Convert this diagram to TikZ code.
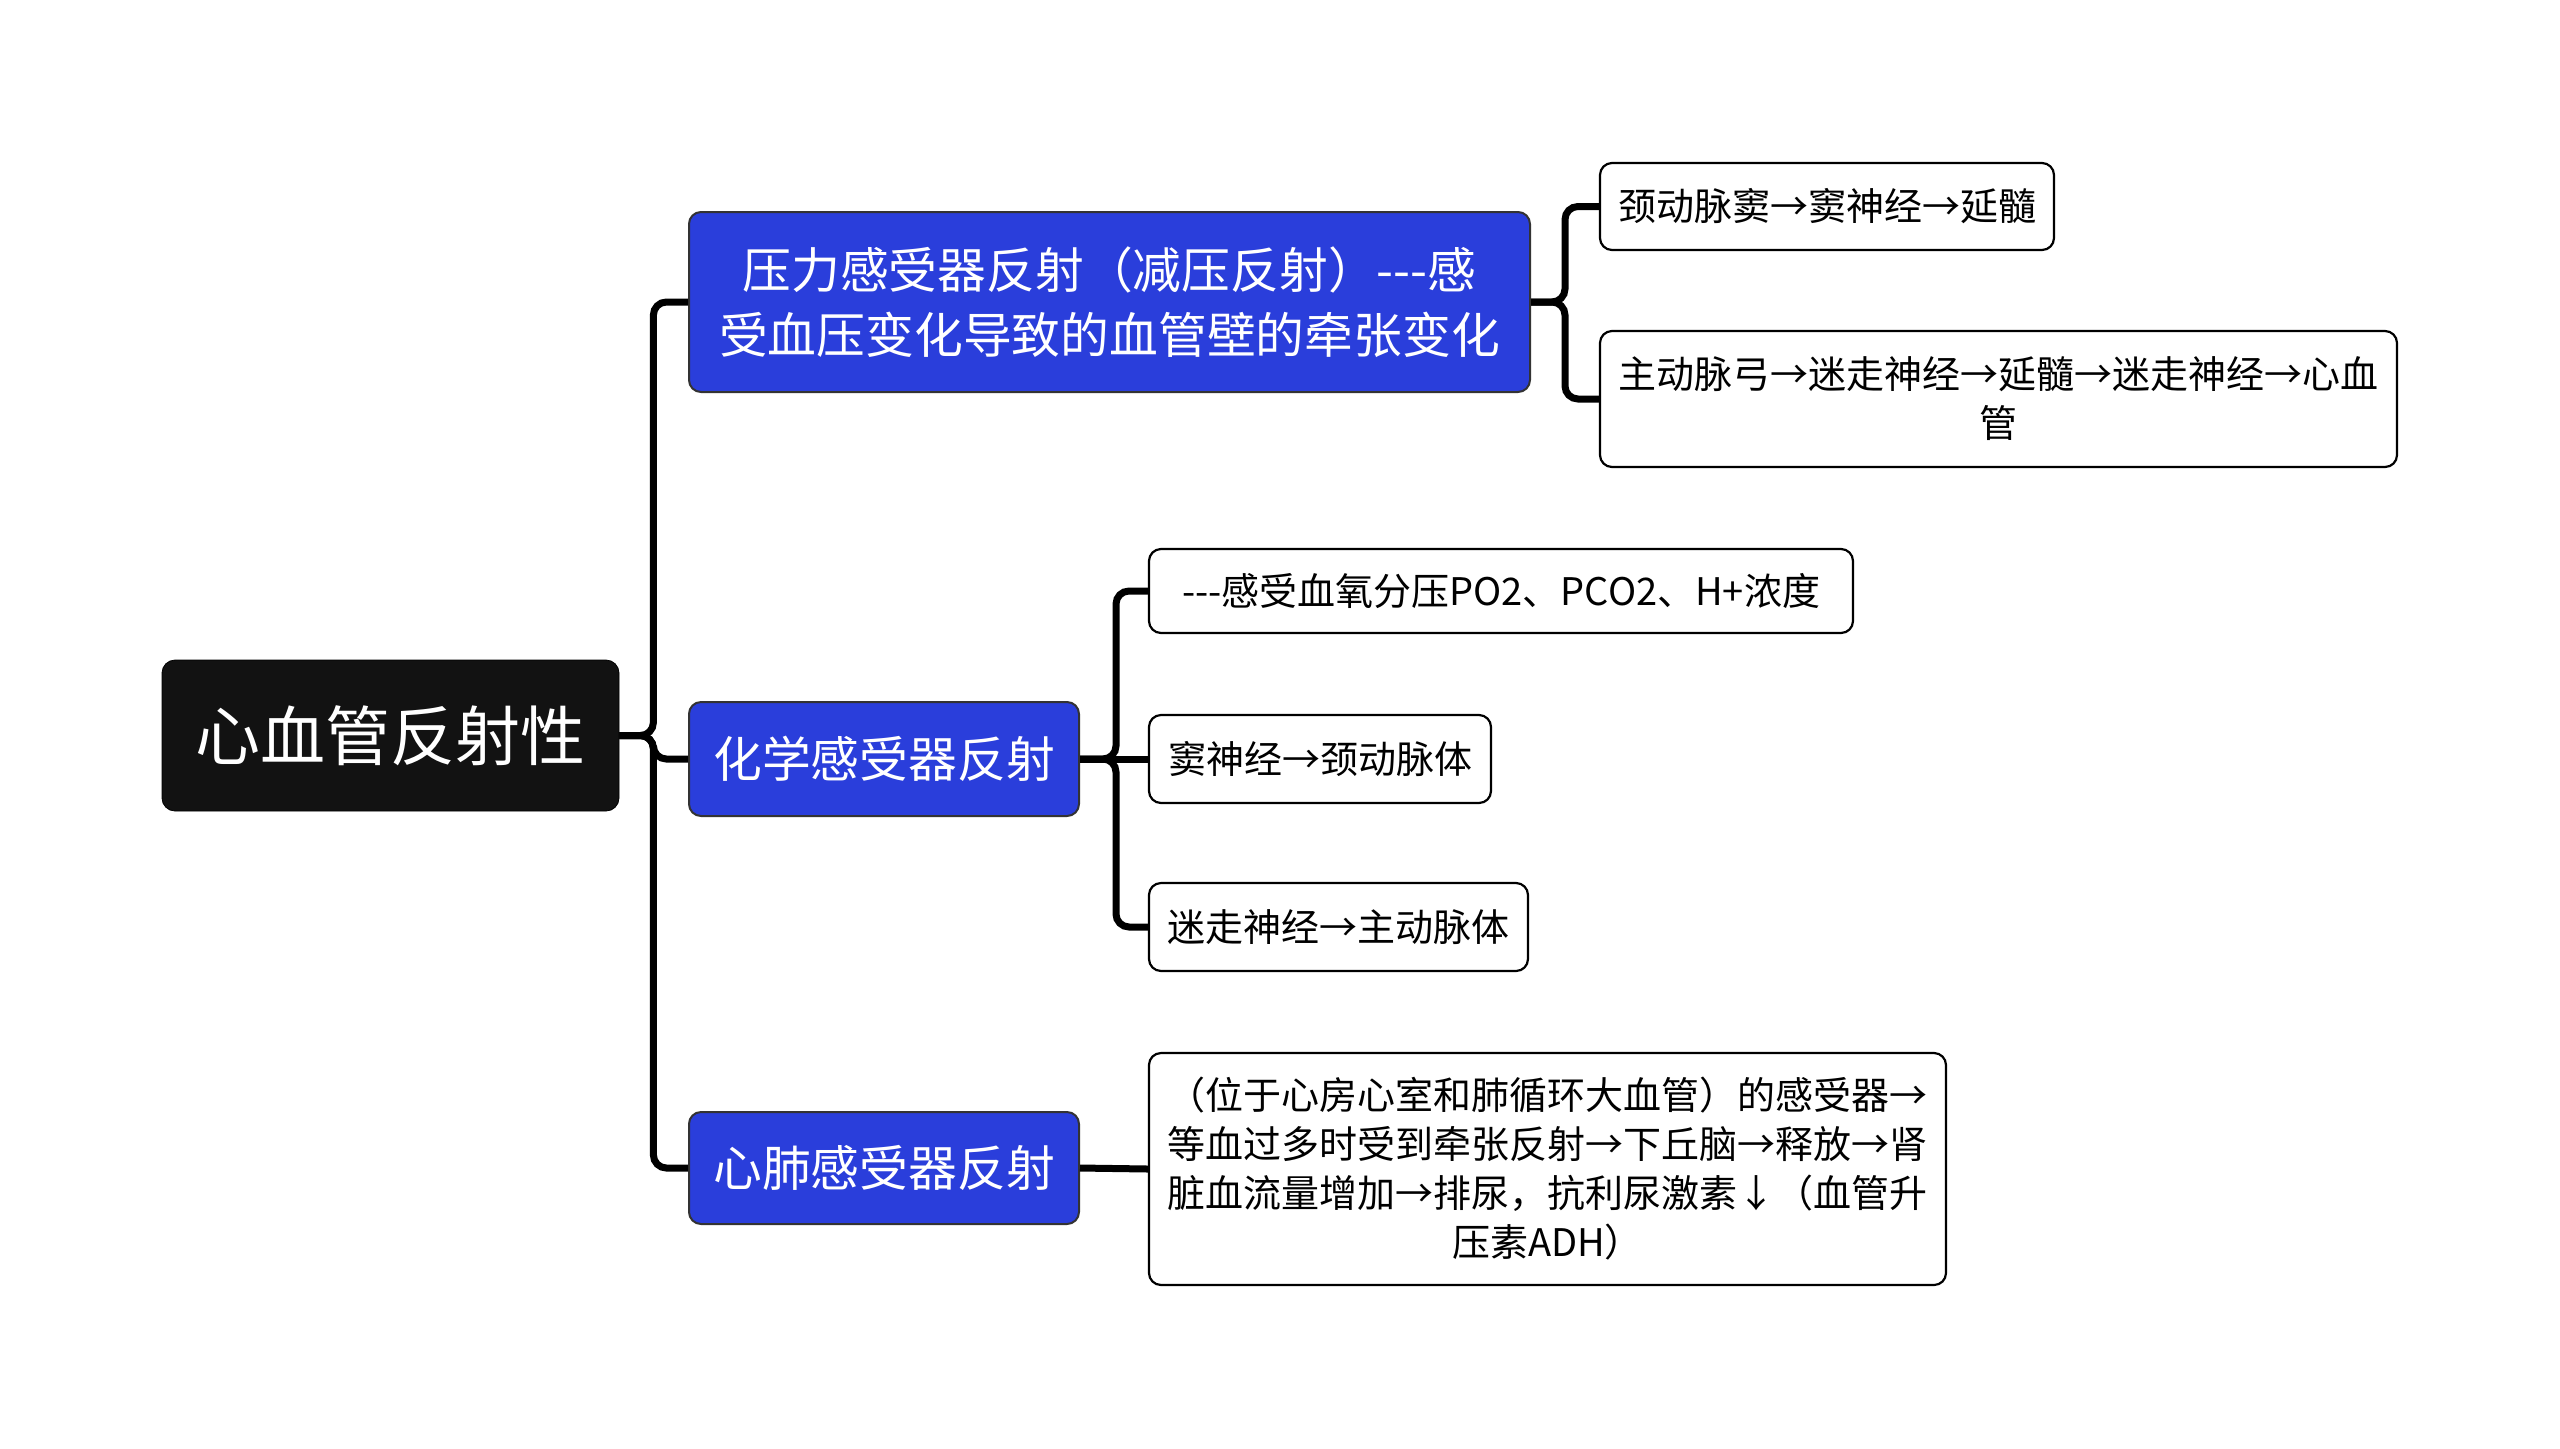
\documentclass[tikz,border=0pt]{standalone}
\usepackage{fontspec}
\setmainfont{Noto Sans CJK SC}
\usepackage{xcolor}
\usepackage{tikz}

\definecolor{topicblue}{HTML}{2A3EDB}

\begin{document}
\begin{tikzpicture}[x=0.5pt,y=-0.5pt,
  root/.style={draw=black,fill=black!93,text=white,rounded corners=6.5pt,
    inner sep=0pt,align=center,font=\fontsize{32.5}{40}\selectfont},
  topic/.style={draw=black!80,line width=1pt,fill=topicblue,text=white,rounded corners=6pt,
    inner sep=0pt,align=center,font=\fontsize{24.4}{32.7}\selectfont},
  leaf/.style={draw=black,line width=1.1pt,fill=white,rounded corners=6pt,
    inner sep=0pt,align=center,font=\fontsize{19}{24.5}\selectfont},
  link/.style={line width=3.5pt,rounded corners=6.5pt}]
  \useasboundingbox (0,0) rectangle (2560,1448);

  \node[root,minimum width=228.5pt,minimum height=75.5pt] (root) at (390.5,735.5) {心血管反射性};

  \node[topic,minimum width=420.5pt,minimum height=90pt] (baro) at (1109.5,302)
    {压力感受器反射（减压反射）-{}-{}-感\\受血压变化导致的血管壁的牵张变化};
  \node[topic,minimum width=195pt,minimum height=57pt] (chemo) at (884,759) {化学感受器反射};
  \node[topic,minimum width=195pt,minimum height=56pt] (cardio) at (884,1168) {心肺感受器反射};

  \node[leaf,minimum width=227pt,minimum height=43.5pt] (carotid) at (1827,206.5) {颈动脉窦→窦神经→延髓};
  \node[leaf,minimum width=398.5pt,minimum height=68pt] (aortic) at (1998.5,399)
    {主动脉弓→迷走神经→延髓→迷走神经→心血\\管};

  \node[leaf,minimum width=352pt,minimum height=42pt] (sense) at (1501,591) {-{}-{}-感受血氧分压PO2、PCO2、H+浓度};
  \node[leaf,minimum width=171pt,minimum height=44pt] (sinus) at (1320,759) {窦神经→颈动脉体};
  \node[leaf,minimum width=189.5pt,minimum height=44pt] (vagus) at (1338.5,927) {迷走神经→主动脉体};

  \node[leaf,minimum width=398.5pt,minimum height=116pt] (atria) at (1547.5,1169)
    {（位于心房心室和肺循环大血管）的感受器→\\等血过多时受到牵张反射→下丘脑→释放→肾\\脏血流量增加→排尿，抗利尿激素↓（血管升\\压素ADH）};

  % root to topics
  \draw[link] (root.east) -- ++(34,0) |- (baro.west);
  \draw[link] (root.east) -- ++(34,0) |- (chemo.west);
  \draw[link] (root.east) -- ++(34,0) |- (cardio.west);

  % topics to leaves
  \draw[link] (baro.east) -- ++(34,0) |- (carotid.west);
  \draw[link] (baro.east) -- ++(34,0) |- (aortic.west);
  \draw[link] (chemo.east) -- ++(36,0) |- (sense.west);
  \draw[link] (chemo.east) -- (sinus.west);
  \draw[link] (chemo.east) -- ++(36,0) |- (vagus.west);
  \draw[link] (cardio.east) -- (atria.west);
\end{tikzpicture}
\end{document}
